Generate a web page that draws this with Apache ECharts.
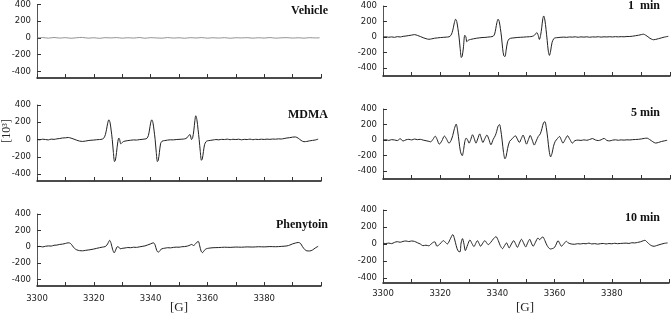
<!DOCTYPE html>
<html>
<head>
<meta charset="utf-8">
<script src="https://cdn.jsdelivr.net/npm/echarts@6.0.0/dist/echarts.min.js"></script>
<style>
  html, body { margin: 0; padding: 0; background: #fff; }
  #chart { width: 672px; height: 324px; }
</style>
</head>
<body>
<div id="chart"></div>
<script>
// field [G], signal [10^3]
var vehicle = [[3300,0],[3302,4],[3304,-3],[3306,5],[3308,-2],[3310,3],[3312,-4],[3314,2],[3316,6],[3318,-3],[3320,2],[3322,-5],[3324,3],[3326,0],[3328,4],[3330,-3],[3332,2],[3334,-2],[3336,5],[3338,-4],[3340,3],[3342,0],[3344,-3],[3346,4],[3348,-2],[3350,2],[3352,-4],[3354,3],[3356,-1],[3358,4],[3360,-3],[3362,2],[3364,-2],[3366,3],[3368,-4],[3370,2],[3372,0],[3374,3],[3376,-3],[3378,2],[3380,-2],[3382,4],[3384,-3],[3386,1],[3388,3],[3390,-2],[3392,2],[3394,-3],[3396,3],[3398,0],[3399.5,1]];

var mdma = [[3300,0],[3301,-3],[3302,4],[3303,0],[3304,-4],[3305,5],[3306,2],[3307,8],[3308,12],[3309,18],[3310,20],[3311,24],[3312,16],[3313,5],[3314,-8],[3315,-18],[3316,-22],[3317,-18],[3318,-12],[3319,-8],[3320,-6],[3321,-2],[3322,0],[3323,5],[3323.6,20],[3324.1,60],[3324.5,120],[3324.9,190],[3325.3,228],[3325.7,200],[3326.1,110],[3326.5,0],[3326.9,-150],[3327.3,-255],[3327.6,-240],[3328,-150],[3328.4,-40],[3328.8,18],[3329.1,0],[3329.5,-50],[3330,-35],[3330.5,-22],[3331,-18],[3332,-12],[3333,-8],[3334,-4],[3335,-6],[3336,-1],[3337,2],[3338,6],[3338.7,14],[3339.2,45],[3339.6,110],[3340,190],[3340.4,228],[3340.8,200],[3341.2,110],[3341.6,0],[3342,-150],[3342.4,-255],[3342.7,-240],[3343.1,-150],[3343.5,-50],[3344,-20],[3345,-12],[3346,-6],[3347,-3],[3348,-4],[3349,0],[3350,2],[3351,4],[3352,8],[3352.8,20],[3353.5,50],[3353.9,58],[3354.4,0],[3354.8,20],[3355.2,100],[3355.6,220],[3355.9,275],[3356.3,230],[3356.7,120],[3357.1,0],[3357.5,-140],[3357.9,-240],[3358.2,-225],[3358.6,-140],[3359,-60],[3359.5,-25],[3360,-15],[3361,-10],[3362,-5],[3363,0],[3364,-3],[3365,2],[3366,0],[3367,5],[3368,-2],[3369,3],[3370,0],[3371,4],[3372,-3],[3373,2],[3374,0],[3375,5],[3376,-2],[3377,3],[3378,0],[3379,4],[3380,1],[3381,5],[3382,2],[3383,6],[3384,4],[3385,8],[3386,6],[3387,12],[3388,18],[3389,22],[3390,28],[3391,30],[3392,15],[3393,-10],[3394,-25],[3395,-22],[3396,-15],[3397,-10],[3398,-5],[3399,5]];

var phenytoin = [[3300,0],[3301,4],[3302,-2],[3303,6],[3304,10],[3305,8],[3306,18],[3307,20],[3308,28],[3309,32],[3310,40],[3311,48],[3311.8,40],[3312.5,10],[3313.2,-20],[3314,-38],[3315,-48],[3316,-50],[3317,-45],[3318,-40],[3319,-35],[3320,-28],[3321,-20],[3322,-12],[3323,-5],[3324,2],[3324.6,20],[3325.1,50],[3325.6,78],[3326.1,40],[3326.6,-30],[3327.2,-75],[3327.7,-40],[3328.3,0],[3328.8,-5],[3329.3,-25],[3330,-20],[3331,-15],[3332,-10],[3333,-12],[3334,-6],[3335,-8],[3336,-2],[3337,4],[3338,10],[3339,22],[3340,35],[3341,48],[3341.6,20],[3342.1,-40],[3342.7,-68],[3343.3,-45],[3344,-25],[3345,-18],[3346,-12],[3347,-14],[3348,-8],[3349,-5],[3350,-6],[3351,0],[3352,2],[3353,8],[3354,22],[3354.5,28],[3355.1,15],[3355.7,30],[3356.3,55],[3356.8,65],[3357.3,10],[3357.8,-55],[3358.3,-72],[3358.9,-45],[3359.6,-25],[3360.5,-18],[3362,-12],[3364,-10],[3366,-6],[3368,-8],[3370,-4],[3372,-6],[3374,-2],[3376,-4],[3378,0],[3380,-2],[3382,2],[3384,0],[3386,4],[3388,10],[3389,20],[3390,35],[3391,45],[3392,52],[3392.8,40],[3393.5,0],[3394.3,-35],[3395,-50],[3396,-52],[3397,-40],[3398,-15],[3399,5]];

var min1 = [[3300,0],[3301,4],[3302,-2],[3303,3],[3304,-3],[3305,6],[3306,2],[3307,10],[3308,14],[3309,20],[3310,26],[3311,32],[3312,22],[3313,8],[3314,-8],[3315,-20],[3316,-28],[3317,-22],[3318,-14],[3319,-10],[3320,-6],[3321,-3],[3322,0],[3323,4],[3323.6,20],[3324.1,60],[3324.5,120],[3324.9,190],[3325.3,230],[3325.7,200],[3326.1,110],[3326.5,0],[3326.9,-150],[3327.3,-262],[3327.6,-245],[3328,-140],[3328.5,24],[3328.9,0],[3329.2,-60],[3329.7,-40],[3330.5,-30],[3331.5,-22],[3332.5,-15],[3333.5,-10],[3334.5,-6],[3335.5,-4],[3336.5,0],[3337.5,4],[3338.4,12],[3338.9,40],[3339.3,110],[3339.7,190],[3340.1,230],[3340.5,200],[3340.9,110],[3341.3,0],[3341.7,-150],[3342.1,-240],[3342.5,-250],[3342.9,-170],[3343.4,-60],[3344,-22],[3345,-12],[3346,-8],[3347,-4],[3348,-2],[3349,0],[3350,3],[3351,5],[3352,10],[3352.8,25],[3353.6,58],[3354.1,20],[3354.5,-30],[3354.9,20],[3355.3,120],[3355.7,240],[3356,272],[3356.4,220],[3356.8,100],[3357.2,-40],[3357.6,-180],[3358,-235],[3358.4,-180],[3358.9,-70],[3359.5,-20],[3360,-10],[3361,-6],[3362,-2],[3363,0],[3364,-3],[3365,2],[3366,0],[3367,4],[3368,-2],[3369,3],[3370,0],[3371,4],[3372,-2],[3373,3],[3374,1],[3375,5],[3376,0],[3377,4],[3378,2],[3379,5],[3380,2],[3381,6],[3382,3],[3383,6],[3384,4],[3385,8],[3386,8],[3387,12],[3388,18],[3389,24],[3390,32],[3390.7,38],[3391.5,25],[3392.3,5],[3393,-15],[3393.7,-28],[3394.2,-34],[3395,-30],[3396,-20],[3397,-10],[3398,0],[3399.4,10]];

var min5 = [[3300,0],[3301,5],[3302,-4],[3303,6],[3304,2],[3305,-6],[3306,18],[3307,-12],[3308,4],[3309,10],[3310,2],[3311,14],[3312,6],[3313,10],[3314,0],[3315,-8],[3316,-16],[3316.6,-22],[3317.4,10],[3318.2,50],[3318.9,5],[3319.6,-52],[3320.5,-10],[3321.4,52],[3322.2,10],[3323,-40],[3323.7,-5],[3324.3,60],[3324.9,150],[3325.5,206],[3326,120],[3326.5,-20],[3327,-150],[3327.6,-200],[3328.1,-120],[3328.5,-20],[3329,26],[3329.5,0],[3330,-39],[3330.6,10],[3331.2,69],[3331.8,20],[3332.4,-39],[3333,15],[3333.7,80],[3334.2,30],[3334.8,-30],[3335.5,20],[3336.2,65],[3336.9,10],[3337.6,-60],[3338.4,10],[3339.1,56],[3339.6,110],[3340.1,180],[3340.6,200],[3341,140],[3341.5,0],[3342,-160],[3342.5,-240],[3342.9,-210],[3343.4,-110],[3344.1,-17],[3345.1,20],[3346.1,56],[3346.8,15],[3347.5,-30],[3348.2,20],[3348.8,65],[3349.4,10],[3350,-52],[3350.7,10],[3351.3,60],[3352,0],[3352.7,-64],[3353.4,-10],[3354.1,47],[3354.8,80],[3355.4,150],[3355.9,220],[3356.4,238],[3356.9,160],[3357.4,20],[3357.9,-140],[3358.4,-215],[3358.9,-170],[3359.4,-80],[3360,-17],[3360.8,20],[3361.5,47],[3362.1,5],[3362.7,-39],[3363.5,10],[3364.3,56],[3365.1,10],[3366,-39],[3366.8,-8],[3368,0],[3369,-4],[3370,3],[3371,-2],[3372,8],[3373,20],[3374,2],[3375,-6],[3376,4],[3377,22],[3378,-4],[3379,-10],[3380,0],[3381,4],[3382,-2],[3383,3],[3384,0],[3385,4],[3386,2],[3387,6],[3388,8],[3389,10],[3390,15],[3391,22],[3392,25],[3393,5],[3394,-20],[3395,-38],[3396,-30],[3397,-18],[3398,-10],[3399,-2]];

var min10 = [[3300,8],[3301,5],[3302,10],[3303,4],[3304,18],[3305,27],[3306,20],[3307,30],[3308,35],[3309,28],[3310,35],[3311,30],[3312,15],[3313,0],[3314,-20],[3315,-15],[3316,-22],[3317,5],[3317.6,20],[3318.2,24],[3318.8,-25],[3319.4,-16],[3320.2,10],[3321.1,39],[3321.8,20],[3322.5,0],[3323.4,50],[3324.4,110],[3325,60],[3325.6,-20],[3326.2,-80],[3326.9,-94],[3327.3,10],[3327.8,63],[3328.3,0],[3328.8,-78],[3329.6,-10],[3330.4,47],[3331.1,5],[3331.8,-31],[3332.4,5],[3333,39],[3333.6,5],[3334.1,-27],[3334.9,10],[3335.6,39],[3336.2,15],[3336.8,-8],[3337.7,20],[3338.6,60],[3339.5,86],[3340.3,40],[3341,-20],[3341.8,-55],[3342.5,-20],[3343.2,12],[3343.7,-20],[3344.1,-47],[3344.9,0],[3345.7,39],[3346.3,5],[3347,-39],[3347.7,10],[3348.4,55],[3349.1,15],[3349.9,-35],[3350.6,15],[3351.3,55],[3351.9,10],[3352.5,-27],[3353.3,20],[3354.2,70],[3354.8,50],[3355.3,70],[3355.9,82],[3356.6,40],[3357.4,-20],[3358.5,-59],[3359.2,-55],[3360,-40],[3360.6,0],[3361.2,39],[3361.8,5],[3362.4,-27],[3363.2,0],[3364.1,31],[3364.9,10],[3365.8,0],[3367,-4],[3368,3],[3369,0],[3370,5],[3371,2],[3372,10],[3373,0],[3374,4],[3375,-2],[3376,3],[3377,6],[3378,0],[3379,5],[3380,2],[3381,8],[3382,3],[3383,6],[3384,8],[3385,10],[3386,6],[3387,14],[3388,12],[3389,18],[3390,25],[3391,38],[3391.6,43],[3392.4,20],[3393.2,-5],[3394,-22],[3394.8,-27],[3395.6,-20],[3396.5,-10],[3397.5,0],[3398.5,8],[3399.5,12]];

var panelNames = ['Vehicle', 'MDMA', 'Phenytoin', '1  min', '5 min', '10 min'];
var panelData = [vehicle, mdma, phenytoin, min1, min5, min10];
var yTicks = [-400, -200, 0, 200, 400];

// layout of the six panels (px)
var layout = [
    {left: 37, top: 4, width: 284, height: 74, min: -480, labels: false, margin: 8, tx: 328, ty: 11},
    {left: 37, top: 105, width: 284, height: 76, min: -480, labels: false, margin: 8, tx: 328, ty: 115},
    {left: 37, top: 214, width: 284, height: 72, min: -480, labels: true, margin: 8, tx: 328, ty: 225},
    {left: 383, top: 6, width: 287, height: 70, min: -500, labels: false, margin: 6, tx: 660, ty: 6},
    {left: 383, top: 109, width: 287, height: 70, min: -500, labels: false, margin: 6, tx: 660, ty: 113},
    {left: 383, top: 210, width: 287, height: 73, min: -460, labels: true, margin: 6, tx: 660, ty: 218}
];

var chart = echarts.init(document.getElementById('chart'));

var grids = [], xAxes = [], yAxes = [], series = [], texts = [];
for (var i = 0; i < layout.length; i++) {
    var p = layout[i];
    grids.push({left: p.left, top: p.top, width: p.width, height: p.height});
    xAxes.push({
        type: 'value', gridIndex: i, min: 3300, max: 3400, interval: 10,
        axisLine: {onZero: false, lineStyle: {color: '#111', width: 1.5}},
        axisTick: {inside: true, length: 4, lineStyle: {color: '#333'}},
        splitLine: {show: false},
        axisLabel: {
            show: p.labels, margin: p.margin, color: '#222', fontSize: 8.5, fontFamily: 'DejaVu Sans',
            formatter: function (v) { return (v % 20 === 0 && v < 3400) ? String(v) : ''; }
        }
    });
    yAxes.push({
        type: 'value', gridIndex: i, min: p.min, max: 400,
        axisLine: {show: true, onZero: false, lineStyle: {color: '#555', width: 1}},
        axisTick: {inside: true, length: 4, customValues: yTicks, lineStyle: {color: '#333'}},
        splitLine: {show: false},
        axisLabel: {margin: 6, color: '#222', fontSize: 8.5, fontFamily: 'DejaVu Sans', customValues: yTicks}
    });
    series.push({
        type: 'line', xAxisIndex: i, yAxisIndex: i, data: panelData[i],
        showSymbol: false, smooth: 0.3, silent: true,
        lineStyle: {color: i === 0 ? '#777' : '#222', width: i === 0 ? 0.8 : 1}
    });
    texts.push({
        type: 'text', x: p.tx, y: p.ty,
        style: {text: panelNames[i], textAlign: 'right', textVerticalAlign: 'middle',
            font: 'bold 12px "Liberation Serif"', fill: '#111'}
    });
}

texts.push({type: 'text', x: 179, y: 308,
    style: {text: '[G]', textAlign: 'center', textVerticalAlign: 'middle', font: '13px "Liberation Serif"', fill: '#222'}});
texts.push({type: 'text', x: 525, y: 308,
    style: {text: '[G]', textAlign: 'center', textVerticalAlign: 'middle', font: '13px "Liberation Serif"', fill: '#222'}});
texts.push({type: 'text', x: 7, y: 131, rotation: Math.PI / 2,
    style: {text: '[10³]', textAlign: 'center', textVerticalAlign: 'middle', font: '12px "Liberation Serif"', fill: '#222'}});

chart.setOption({
    animation: false,
    backgroundColor: '#fff',
    grid: grids,
    xAxis: xAxes,
    yAxis: yAxes,
    series: series,
    graphic: texts
});
</script>
</body>
</html>
